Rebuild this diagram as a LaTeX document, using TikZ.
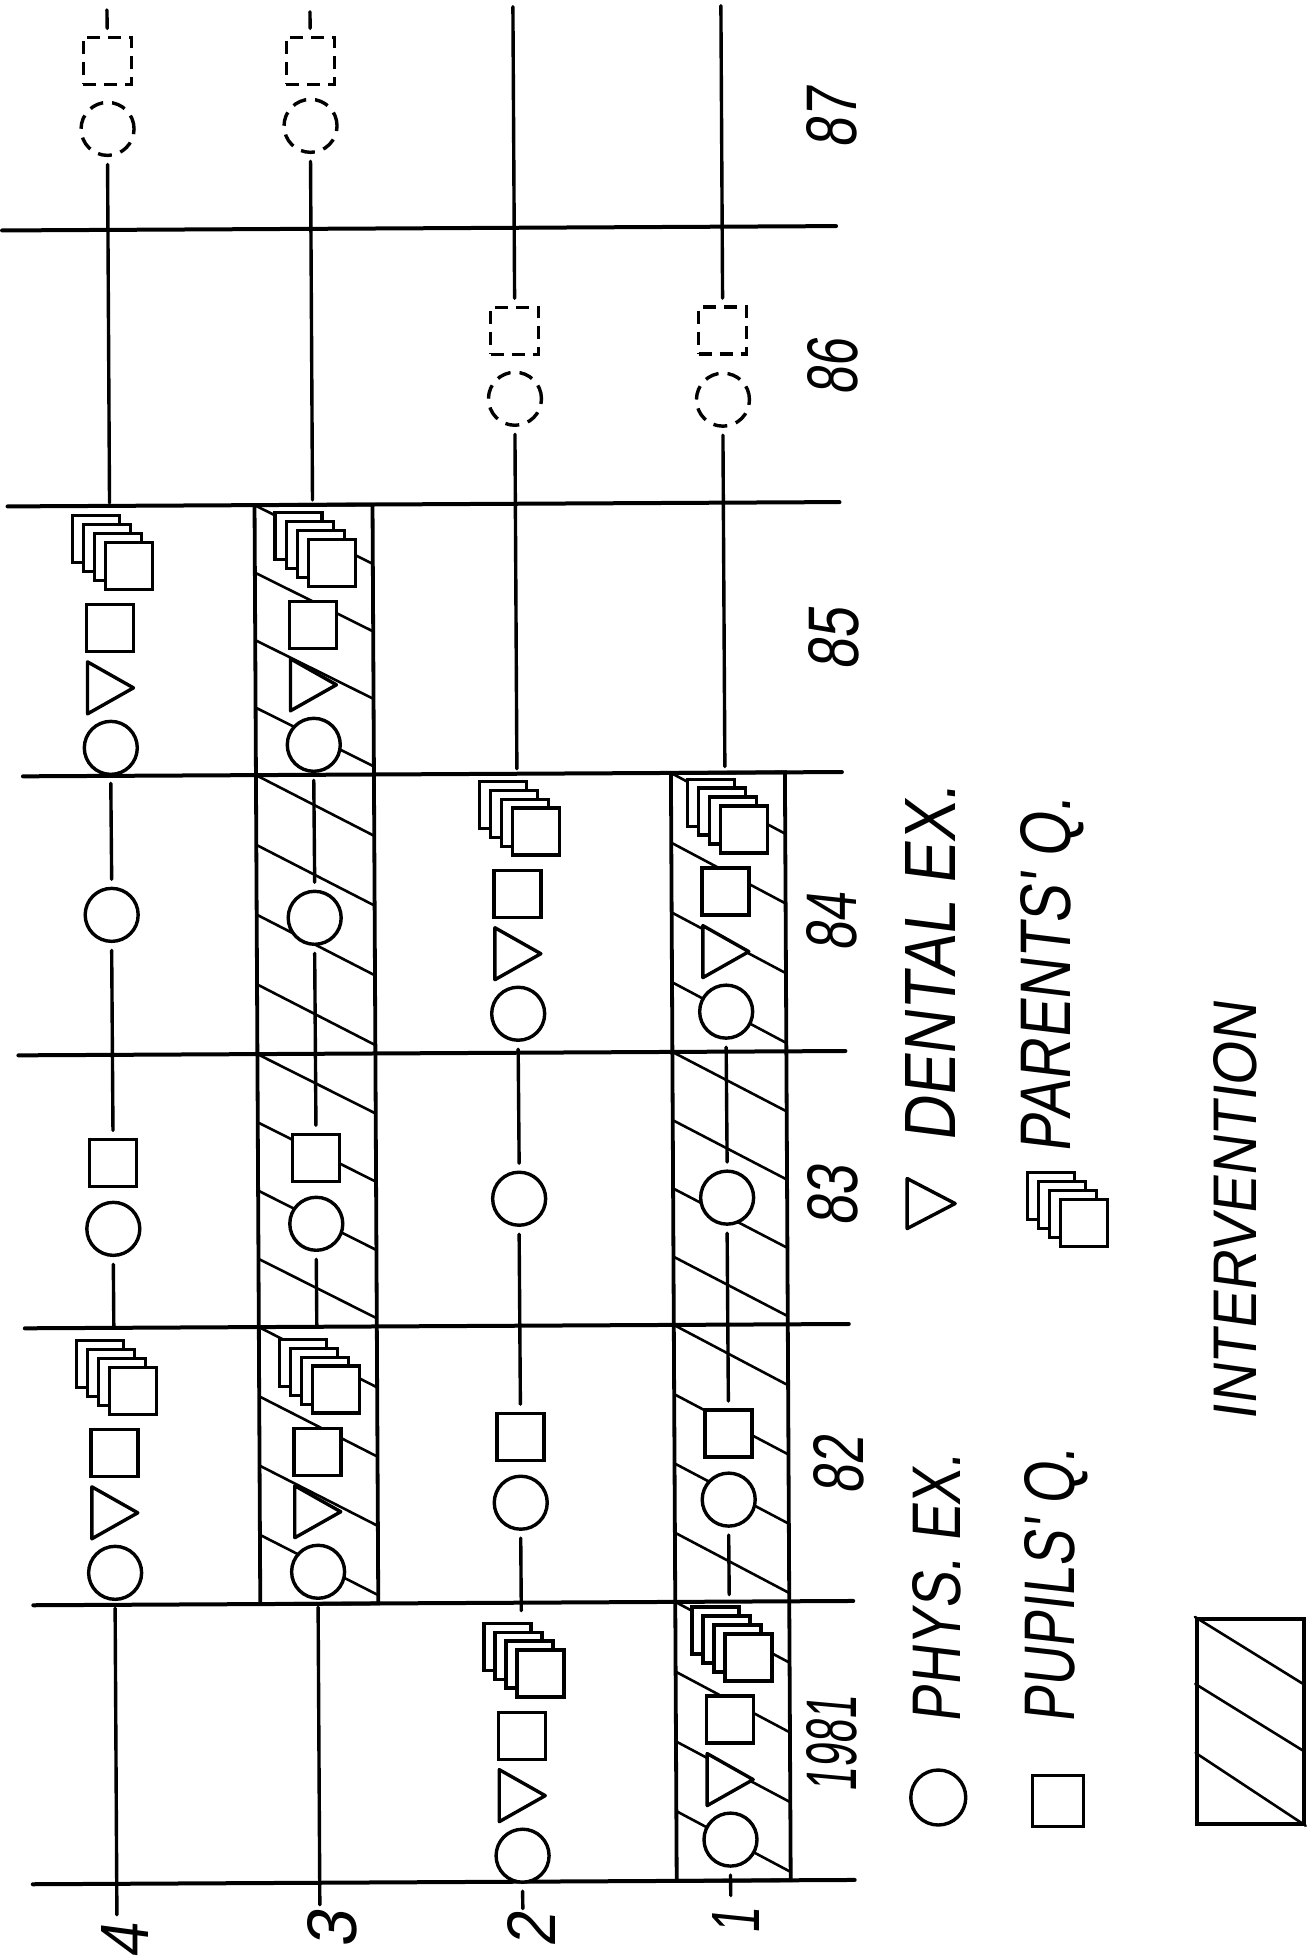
\documentclass[tikz,border=0pt]{standalone}
\usepackage{fontspec}
\usepackage{graphicx}
\newfontfamily\hand{Liberation Sans}[FakeSlant=0.15]
\usetikzlibrary{calc}

\newcommand\mkcirc[3]{\node[circ] (#1) at (#2,#3) {};}
\newcommand\mkdcirc[3]{\node[dcirc] (#1) at (#2,#3) {};}
\newcommand\mksq[3]{\node[sq] (#1) at (#2,#3) {};}
\newcommand\mkdsq[3]{\node[dsq] (#1) at (#2,#3) {};}
\newcommand\mktri[3]{\node[trib] (#1) at (#2,#3) {};%
  \draw[symline,fill=white,line join=round] (#1.north west) -- (#1.east) -- (#1.south west) -- cycle;}
\newcommand\mkstack[3]{%
  \node[sqk] (#1a) at ({#2-14},{#3-27}) {};
  \node[sqk] (#1b) at ({#2-3},{#3-18}) {};
  \node[sqk] (#1c) at ({#2+8},{#3-9}) {};
  \node[sqk] (#1d) at ({#2+19},{#3}) {};
  \coordinate (#1t) at ({#2},{#3-63});}
\newcommand\mkfull[3]{\mkcirc{#1c}{#2}{#3}\mktri{#1t}{#2}{#3-60}\mksq{#1q}{#2}{#3-120}\mkstack{#1k}{#2}{#3-182}}
\newcommand\mkcq[3]{\mkcirc{#1c}{#2}{#3}\mksq{#1q}{#2}{#3-66}}
\newcommand\hatchcell[4]{\foreach \k in {0,1,2,3}{\draw[hatchline] (#1,{#3+\k*(#4-#3)/4}) -- (#2,{#3+\k*(#4-#3)/4+0.88*(#4-#3)/4});}}

\begin{document}
\begin{tikzpicture}[x=1pt,y=-1pt,
  sepline/.style={line width=4pt, line cap=round},
  gline/.style={line width=3.4pt, line cap=round},
  boxline/.style={line width=3.8pt},
  hatchline/.style={line width=2.6pt, line cap=round},
  symline/.style={line width=3.4pt},
  circ/.style={circle, draw, line width=3.4pt, fill=white, minimum size=53pt, inner sep=0pt, outer sep=9pt},
  sq/.style={rectangle, draw, line width=3.4pt, fill=white, minimum width=47pt, minimum height=47pt, inner sep=0pt, outer sep=9pt},
  sqk/.style={rectangle, draw, line width=3.4pt, fill=white, minimum width=47pt, minimum height=47pt, inner sep=0pt, outer sep=0pt},
  trib/.style={rectangle, inner sep=0pt, outer sep=0pt, minimum width=46pt, minimum height=52pt},
  dcirc/.style={circ, dash pattern=on 14pt off 9pt},
  dsq/.style={sq, minimum width=48pt, dash pattern=on 13pt off 8pt},
  lab/.style={rotate=90, inner sep=0pt, font=\hand},
]
\fill[white] (0,0) rectangle (1314,1959);
\useasboundingbox (0,0) rectangle (1314,1959);

\begin{scope}[rotate around={0.3:(657,980)}]
% ---------- hatching of intervention periods
\hatchcell{257}{375}{503}{773}
\hatchcell{257}{375}{773}{1052}
\hatchcell{257}{375}{1052}{1325}
\hatchcell{257}{375}{1325}{1602}
\hatchcell{672}{786}{773}{1052}
\hatchcell{672}{786}{1052}{1325}
\hatchcell{672}{786}{1325}{1602}
\hatchcell{672}{786}{1602}{1881}

% ---------- year separators
\draw[sepline] (6,227) -- (840,227);
\draw[sepline] (10,503) -- (842,503);
\draw[sepline] (24,773) -- (843,773);
\draw[sepline] (18,1052) -- (845,1052);
\draw[sepline] (23,1325) -- (847,1325);
\draw[sepline] (30,1602) -- (850,1602);
\draw[sepline] (28,1881) -- (850,1881);

% ---------- intervention boxes
\draw[boxline] (257,503) rectangle (375,1602);
\draw[boxline] (672,773) rectangle (786,1881);

% ---------- group 4 (x=112)
\mkdsq{g4y87q}{112}{58}
\mkdcirc{g4y87c}{112}{126}
\mkfull{g4y85}{112}{745}
\mkcirc{g4y84c}{112}{912}
\mkcq{g4y83}{112}{1226}
\mkfull{g4y82}{112}{1570}
\coordinate (g4top) at (112,7);
\coordinate (g4bot) at (112,1912);
\draw[gline] (g4top) -- (g4y87q.north);
\draw[gline] (g4y87c.south) -- (g4y85kt);
\draw[gline] (g4y85c.south) -- (g4y84c.north);
\draw[gline] (g4y84c.south) -- (g4y83q.north);
\draw[gline] (g4y83c.south) -- (g4y82kt);
\draw[gline] (g4y82c.south) -- (g4bot);

% ---------- group 3 (x=315)
\mkdsq{g3y87q}{315}{59}
\mkdcirc{g3y87c}{315}{124}
\mkfull{g3y85}{315}{743}
\mkcirc{g3y84c}{315}{916}
\mkcq{g3y83}{315}{1222}
\mkfull{g3y82}{315}{1570}
\coordinate (g3top) at (315,10);
\coordinate (g3bot) at (315,1903);
\draw[gline] (g3top) -- (g3y87q.north);
\draw[gline] (g3y87c.south) -- (g3y85kt);
\draw[gline] (g3y85c.south) -- (g3y84c.north);
\draw[gline] (g3y84c.south) -- (g3y83q.north);
\draw[gline] (g3y83c.south) -- (g3y82kt);
\draw[gline] (g3y82c.south) -- (g3bot);

% ---------- group 2 (x=518)
\mkdsq{g2y86q}{518}{330}
\mkdcirc{g2y86c}{518}{398}
\mkfull{g2y84}{518}{1013}
\mkcirc{g2y83c}{518}{1198}
\mkcq{g2y82}{518}{1502}
\mkfull{g2y81}{518}{1855}
\coordinate (g2top) at (518,6);
\coordinate (g2bot) at (518,1908);
\draw[gline] (g2top) -- (g2y86q.north);
\draw[gline] (g2y86c.south) -- (g2y84kt);
\draw[gline] (g2y84c.south) -- (g2y83c.north);
\draw[gline] (g2y83c.south) -- (g2y82q.north);
\draw[gline] (g2y82c.south) -- (g2y81kt);
\draw[gline] (g2y81c.south) -- (g2bot);

% ---------- group 1 (x=726)
\mkdsq{g1y86q}{726}{331}
\mkdcirc{g1y86c}{726}{400}
\mkfull{g1y84}{726}{1012}
\mkcirc{g1y83c}{726}{1198}
\mkcq{g1y82}{726}{1500}
\mkfull{g1y81}{726}{1840}
\coordinate (g1top) at (726,6);
\coordinate (g1bot) at (726,1896);
\draw[gline] (g1top) -- (g1y86q.north);
\draw[gline] (g1y86c.south) -- (g1y84kt);
\draw[gline] (g1y84c.south) -- (g1y83c.north);
\draw[gline] (g1y83c.south) -- (g1y82q.north);
\draw[gline] (g1y82c.south) -- (g1y81kt);
\draw[gline] (g1y81c.south) -- (g1bot);

% ---------- year labels
\node[lab] (yr87) at (836,119) {\resizebox{60pt}{50pt}{87}};
\node[lab] (yr86) at (836,368) {\resizebox{56pt}{50pt}{86}};
\node[lab] (yr85) at (836,640) {\resizebox{62pt}{50pt}{85}};
\node[lab] (yr84) at (832,923) {\resizebox{58pt}{50pt}{84}};
\node[lab] (yr83) at (832,1197) {\resizebox{61pt}{50pt}{83}};
\node[lab] (yr82) at (836,1466) {\resizebox{58pt}{50pt}{82}};
\node[lab] (yr81) at (828,1745) {\resizebox{96pt}{50pt}{1981}};

% ---------- group labels
\node[lab] (lab4) at (120,1939) {\resizebox{34pt}{47pt}{4}};
\node[lab] (lab3) at (327,1928) {\resizebox{37pt}{49pt}{3}};
\node[lab] (lab2) at (527,1930) {\resizebox{34pt}{48pt}{2}};
\node[lab] (lab1) at (731,1922) {\resizebox{26pt}{47pt}{1}};

% ---------- legend
\node[circ, minimum size=55pt, outer sep=0pt] (legc) at (934,1799) {};
\node[lab] (legctext) at (934,1590) {\resizebox{269pt}{48pt}{PHYS. EX.}};
\node[trib, minimum width=48pt, minimum height=50pt] (legt) at (930,1205) {};
\draw[symline,fill=white,line join=round] (legt.north west) -- (legt.east) -- (legt.south west) -- cycle;
\node[lab] (legttext) at (931,965) {\resizebox{357pt}{50pt}{DENTAL EX.}};
\node[sq, minimum width=51pt, minimum height=51pt, outer sep=0pt] (legq) at (1054,1803) {};
\node[lab] (legqtext) at (1053,1588) {\resizebox{275pt}{50pt}{PUPILS' Q.}};
\mkstack{legk}{1064}{1225}
\node[lab] (legktext) at (1052,978) {\resizebox{356pt}{50pt}{PARENTS' Q.}};
\node[draw, boxline, minimum width=107pt, minimum height=205pt, inner sep=0pt] (legi) at (1246.5,1724.5) {};
\draw[hatchline] (legi.north west) -- ($(legi.north west)+(107,67)$);
\draw[hatchline] ($(legi.north west)+(0,67)$) -- ($(legi.north west)+(107,134)$);
\draw[hatchline] ($(legi.north west)+(0,136)$) -- (legi.south east);
\node[lab] (legitext) at (1234,1215) {\resizebox{419pt}{43pt}{INTERVENTION}};
\end{scope}
\end{tikzpicture}
\end{document}
